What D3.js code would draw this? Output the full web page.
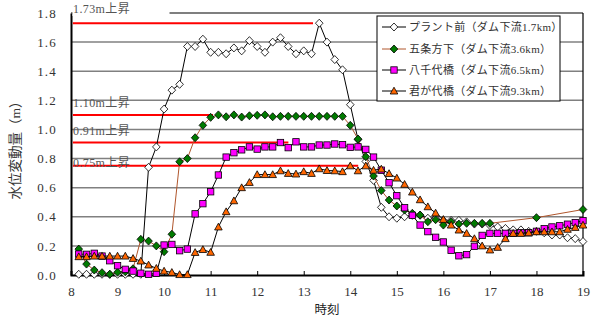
<!DOCTYPE html>
<html><head><meta charset="utf-8">
<script src="https://cdn.jsdelivr.net/npm/d3@7"></script>
<style>
html,body{margin:0;padding:0;background:#fff;}
svg{display:block;}
text{font-family:"Liberation Serif","Noto Sans CJK JP",serif;}
</style></head>
<body>
<script>
// ---- data ----
const times = ["8:10","8:20","8:30","8:40","8:50","9:00","9:10","9:20","9:30","9:40","9:50",
"10:00","10:10","10:20","10:30","10:40","10:50","11:00","11:10","11:20","11:30","11:40","11:50",
"12:00","12:10","12:20","12:30","12:40","12:50","13:00","13:10","13:20","13:30","13:40","13:50",
"14:00","14:10","14:20","14:30","14:40","14:50","15:00","15:10","15:20","15:30","15:40","15:50",
"16:00","16:10","16:20","16:30","16:40","16:50","17:00","17:10","17:20","17:30","17:40","17:50",
"18:00","18:10","18:20","18:30","18:40","18:50","19:00"];

const seriesNames = ["プラント前（ダム下流1.7km）","五条方下（ダム下流3.6km）","八千代橋（ダム下流6.5km）","君が代橋（ダム下流9.3km）"];

const plant = [0.005,0.005,0.005,0.005,0.005,0.005,0.005,0.005,0.005,0.74,0.88,
1.14,1.27,1.31,1.57,1.57,1.62,1.53,1.53,1.52,1.56,1.54,1.61,
1.57,1.53,1.60,1.63,1.57,1.52,1.54,1.52,1.73,1.60,1.48,1.41,
1.17,0.93,0.78,0.65,0.465,0.40,0.39,0.40,0.41,0.41,0.39,0.39,
0.375,0.375,0.375,0.365,0.35,0.35,0.34,0.33,0.32,0.31,0.31,0.30,
0.30,0.29,0.275,0.275,0.256,0.25,0.23];

const gojo = [0.178,0.075,0.034,0.016,0.005,0.019,0.022,0.043,0.245,0.233,0.20,
0.16,0.28,0.778,0.80,0.943,1.028,1.083,1.10,1.087,1.10,1.085,1.094,
1.097,1.10,1.087,1.09,1.09,1.09,1.09,1.09,1.09,1.09,1.09,1.09,
1.028,0.934,0.813,0.68,0.58,0.515,0.474,0.446,0.424,0.412,0.366,0.38,
0.343,0.366,0.35,0.355,0.355,0.355,0.355,null,null,null,null,null,
0.394,null,null,null,null,null,0.45];

const yachiyo = [0.144,0.142,0.149,0.13,0.098,0.064,0.039,0.027,0.012,0.005,0.012,
0.206,0.21,0.167,0.178,0.42,0.49,0.572,0.687,0.81,0.84,0.86,0.88,
0.865,0.88,0.88,0.91,0.875,0.915,0.88,0.88,0.893,0.893,0.90,0.895,
0.877,0.88,0.863,0.81,0.72,0.634,0.545,0.462,0.41,0.343,0.298,0.259,
0.227,0.17,0.132,0.14,0.197,0.272,0.286,0.286,0.286,0.286,0.29,0.29,
0.30,0.318,0.33,0.338,0.349,0.36,0.373];

const kimigayo = [0.126,0.126,0.13,0.13,0.13,0.13,0.13,0.114,0.096,0.069,0.046,
0.027,0.018,0.003,0.003,0.155,0.175,0.156,0.33,0.435,0.51,0.60,0.636,
0.69,0.69,0.69,0.716,0.698,0.694,0.71,0.698,0.73,0.718,0.716,0.71,
0.75,0.716,0.75,0.72,0.728,0.697,0.666,0.623,0.57,0.517,0.469,0.426,
0.382,0.343,0.309,0.286,0.25,0.20,0.172,0.19,0.25,0.286,0.286,0.29,
0.297,0.297,0.297,0.297,0.314,0.327,0.343];

const xTicks = [8,9,10,11,12,13,14,15,16,17,18,19];
const yTicks = [0,0.2,0.4,0.6,0.8,1.0,1.2,1.4,1.6,1.8];

const refLevels = [1.73,1.10,0.91,0.75];
const refLabels = ["1.73m上昇","1.10m上昇","0.91m上昇","0.75m上昇"];
const refEnd = [13.2,11.05,12.67,14.17];

// ---- layout ----
const W=596,H=322;
const svg=d3.select("body").append("svg").attr("width",W).attr("height",H);
const x=d3.scaleLinear().domain([8,19]).range([71,583]);
const y=d3.scaleLinear().domain([0,1.8]).range([275,13]);
const tHours = times.map(t=>{const [h,m]=t.split(":").map(Number);return h+m/60;});

// gridlines
svg.append("g").selectAll("line").data(yTicks.filter(v=>v>0&&v<1.8)).join("line")
 .attr("x1",x(8)).attr("x2",x(19)).attr("y1",d=>y(d)).attr("y2",d=>y(d))
 .attr("stroke","#808080").attr("stroke-width",1.5);
// top & right border
svg.append("line").attr("x1",x(8)).attr("x2",x(19)).attr("y1",y(1.8)).attr("y2",y(1.8)).attr("stroke","#000").attr("stroke-width",1.2);
svg.append("line").attr("x1",x(19)).attr("x2",x(19)).attr("y1",y(1.8)).attr("y2",y(0)).attr("stroke","#000").attr("stroke-width",1.2);

// x axis
const xAxis=d3.axisBottom(x).tickValues(xTicks).tickSize(-4).tickPadding(12).tickFormat(d3.format("d"));
const gx=svg.append("g").attr("transform",`translate(0,${y(0)})`).call(xAxis);
gx.select(".domain").attr("stroke","#000").attr("stroke-width",2);
gx.selectAll(".tick line").attr("stroke","#000");
gx.selectAll("text").attr("font-size",13).attr("fill","#333").attr("font-family","Liberation Serif");

// y axis
const yAxis=d3.axisLeft(y).tickValues(yTicks).tickSize(0).tickPadding(14).tickFormat(d3.format(".1f"));
const gy=svg.append("g").attr("transform",`translate(${x(8)},0)`).call(yAxis);
gy.select(".domain").attr("stroke","#000").attr("stroke-width",2);
gy.selectAll("text").attr("font-size",13).attr("fill","#333").attr("letter-spacing","1.2px").attr("font-family","Liberation Serif");

// reference lines
svg.append("g").selectAll("line").data(refLevels).join("line")
 .attr("x1",x(8.04)).attr("x2",(d,i)=>x(refEnd[i])).attr("y1",d=>y(d)).attr("y2",d=>y(d))
 .attr("stroke","#ff0000").attr("stroke-width",2);

// label background for top label
svg.append("rect").attr("x",x(8)+1.5).attr("y",2).attr("width",97).attr("height",14).attr("fill","#fff");
const refLabelY=[13,107,135,167];
svg.append("g").selectAll("text").data(refLabels).join("text")
 .attr("x",x(8)+2).attr("y",(d,i)=>refLabelY[i]).attr("font-size",12).attr("fill","#555").attr("letter-spacing","0.4px")
 .text(d=>d);

// series
const allSeries=[plant,gojo,yachiyo,kimigayo];
const lineColors=["#000","#b0562c","#000","#000"];
const line=d3.line().defined(d=>d.v!=null).x(d=>x(d.t)).y(d=>y(d.v));
const ptsOf=s=>s.map((v,i)=>({t:tHours[i],v:v}));

function marker(g,type,cx,cy){
  if(type===0){
    g.append("path").attr("d",`M${cx},${cy-4}L${cx+3.8},${cy}L${cx},${cy+4}L${cx-3.8},${cy}Z`)
     .attr("fill","#fff").attr("stroke","#000").attr("stroke-width",0.8);
  }else if(type===1){
    g.append("path").attr("d",`M${cx},${cy-4}L${cx+3.8},${cy}L${cx},${cy+4}L${cx-3.8},${cy}Z`)
     .attr("fill","#007a00").attr("stroke","#000").attr("stroke-width",0.8);
  }else if(type===2){
    g.append("rect").attr("x",cx-3.2).attr("y",cy-3.2).attr("width",6.4).attr("height",6.4)
     .attr("fill","#ff00ff").attr("stroke","#000").attr("stroke-width",0.8);
  }else{
    g.append("path").attr("d",`M${cx},${cy-3.8}L${cx+3.8},${cy+3}L${cx-3.8},${cy+3}Z`)
     .attr("fill","#ff6600").attr("stroke","#000").attr("stroke-width",0.8);
  }
}

allSeries.forEach((s,k)=>{
  const pts=ptsOf(s);
  const g=svg.append("g");
  const valid=pts.filter(d=>d.v!=null);
  g.append("path").datum(valid).attr("d",line).attr("fill","none").attr("stroke",lineColors[k]).attr("stroke-width",1);
  valid.forEach(d=>marker(g,k,x(d.t),y(d.v)));
});

// legend
const lg=svg.append("g");
lg.append("rect").attr("x",377).attr("y",16).attr("width",183).attr("height",85).attr("fill","#fff").attr("stroke","#000").attr("stroke-width",1);
const legY=[27,49,70,91];
seriesNames.forEach((n,k)=>{
  lg.append("line").attr("x1",382).attr("x2",406).attr("y1",legY[k]).attr("y2",legY[k]).attr("stroke",lineColors[k]).attr("stroke-width",1);
  marker(lg,k,394,legY[k]);
  lg.append("text").attr("x",409).attr("y",legY[k]+4).attr("font-size",11).attr("fill","#333").attr("letter-spacing","0.3px").text(n);
});

// axis titles
svg.append("text").attr("transform",`translate(20,147) rotate(-90)`).attr("text-anchor","middle")
 .attr("font-size",13.5).attr("fill","#333").attr("font-family","Noto Sans CJK JP").text("水位変動量（m）");
svg.append("text").attr("x",327).attr("y",314).attr("text-anchor","middle")
 .attr("font-size",12.5).attr("fill","#222").attr("font-family","Noto Sans CJK JP").text("時刻");
</script>
</body></html>
